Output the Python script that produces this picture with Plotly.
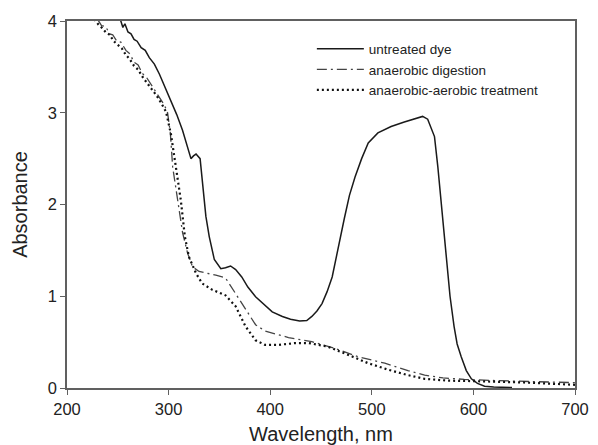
import plotly.graph_objects as go

# Untreated dye (solid line)
wl_dye = [250, 253, 255, 257, 260, 263, 266, 269, 273, 277, 281, 286, 291, 296, 303, 308, 313.7,
          317, 320.5, 322, 324.5, 327, 331, 333.4, 336.7, 340, 345, 351.4, 356, 361, 366, 372,
          378, 385.6, 393, 402, 412, 420, 429, 436, 441, 446, 451, 456, 461, 467, 473, 478,
          483.5, 490, 496.5, 506, 519, 532, 545, 550, 555, 558, 561.7, 565, 568, 571, 574, 577,
          581, 584, 588, 593, 598, 604, 611, 620, 638]
abs_dye = [4.05, 4.0, 3.93, 3.97, 3.88, 3.86, 3.80, 3.78, 3.71, 3.68, 3.60, 3.53, 3.42, 3.29, 3.12,
           2.98, 2.81, 2.68, 2.54, 2.50, 2.53, 2.55, 2.50, 2.23, 1.87, 1.65, 1.40, 1.30, 1.31, 1.33,
           1.29, 1.21, 1.10, 0.995, 0.92, 0.83, 0.78, 0.75, 0.73, 0.735, 0.78, 0.84, 0.92, 1.05,
           1.21, 1.54, 1.85, 2.10, 2.30, 2.50, 2.67, 2.78, 2.85, 2.90, 2.94, 2.96, 2.93, 2.85,
           2.74, 2.41, 2.05, 1.70, 1.35, 1.00, 0.67, 0.48, 0.34, 0.19, 0.10, 0.05, 0.02, 0.01, 0.005]

# Anaerobic digestion (dash-dot line)
wl_ana = [230, 234, 238, 242, 245, 249, 253, 258, 262, 266, 270, 274, 278, 285, 291, 296, 299,
          301.7, 304, 309, 313.8, 318.7, 323.6, 330, 340, 346.5, 356, 366, 375.8, 385.6, 395,
          402, 418, 441, 464, 486.7, 512.8, 535.6, 552, 570, 591, 623.7, 660, 700]
abs_ana = [4.02, 3.95, 3.94, 3.86, 3.85, 3.78, 3.77, 3.68, 3.64, 3.55, 3.52, 3.43, 3.39, 3.27,
           3.18, 3.08, 3.0, 2.78, 2.41, 2.05, 1.69, 1.47, 1.32, 1.27, 1.25, 1.23, 1.20, 1.03, 0.85,
           0.69, 0.62, 0.60, 0.55, 0.505, 0.43, 0.34, 0.27, 0.19, 0.14, 0.11, 0.094, 0.08, 0.07,
           0.058]

# Anaerobic-aerobic treatment (dotted line)
wl_aer = [227, 231, 234, 238, 242, 246, 250, 254, 258, 262, 266, 270, 275, 282, 288, 293, 297.5,
          302.4, 307, 312, 316, 320, 327, 333, 343, 350, 356, 366, 375.8, 385.6, 395, 408, 425,
          438, 457, 477, 496.5, 516, 535.6, 552, 575, 600, 650, 700]
abs_aer = [4.02, 3.96, 3.93, 3.88, 3.85, 3.78, 3.74, 3.70, 3.63, 3.58, 3.51, 3.47, 3.38, 3.28,
           3.19, 3.10, 3.01, 2.76, 2.41, 2.05, 1.65, 1.43, 1.25, 1.14, 1.07, 1.04, 1.01, 0.89,
           0.67, 0.52, 0.47, 0.47, 0.49, 0.49, 0.45, 0.36, 0.27, 0.20, 0.14, 0.10, 0.08, 0.075,
           0.06, 0.035]

x_ticks = [200, 300, 400, 500, 600, 700]
y_ticks = [0, 1, 2, 3, 4]

fig = go.Figure()
fig.add_trace(go.Scatter(x=wl_dye, y=abs_dye, mode="lines", name="untreated dye",
                         line=dict(color="#1a1a1a", width=1.5)))
fig.add_trace(go.Scatter(x=wl_ana, y=abs_ana, mode="lines", name="anaerobic digestion",
                         line=dict(color="#444444", width=1.3, dash="10px,4px,2px,4px")))
fig.add_trace(go.Scatter(x=wl_aer, y=abs_aer, mode="lines", name="anaerobic-aerobic treatment",
                         line=dict(color="#111111", width=2.2, dash="2px,3px")))

axis_style = dict(showgrid=False, zeroline=False, showline=True, linecolor="#606060",
                  linewidth=1.6, mirror=True, ticks="outside", ticklen=5, tickwidth=1.2,
                  tickcolor="#606060", tickfont=dict(size=16.5, color="#222"), automargin=False)

fig.update_xaxes(range=[200, 700], tickvals=x_ticks,
                 title=dict(text="Wavelength, nm", font=dict(size=20, color="#222")),
                 **axis_style)
fig.update_yaxes(range=[0, 4], tickvals=y_ticks,
                 title=dict(text="Absorbance", font=dict(size=20, color="#222")),
                 **axis_style)

# the page adds an 8px body margin, so the figure is drawn 8px smaller
fig.update_layout(width=590, height=437,
                  margin=dict(l=59, r=23, t=13, b=57),
                  plot_bgcolor="white", paper_bgcolor="white",
                  font=dict(family="Liberation Sans, Arial, sans-serif", color="#222"),
                  showlegend=True,
                  legend=dict(x=0.482, y=0.966, xanchor="left", yanchor="top",
                              bgcolor="rgba(0,0,0,0)", font=dict(size=13.5),
                              tracegroupgap=0, itemwidth=47))

fig.write_html("out.html")
